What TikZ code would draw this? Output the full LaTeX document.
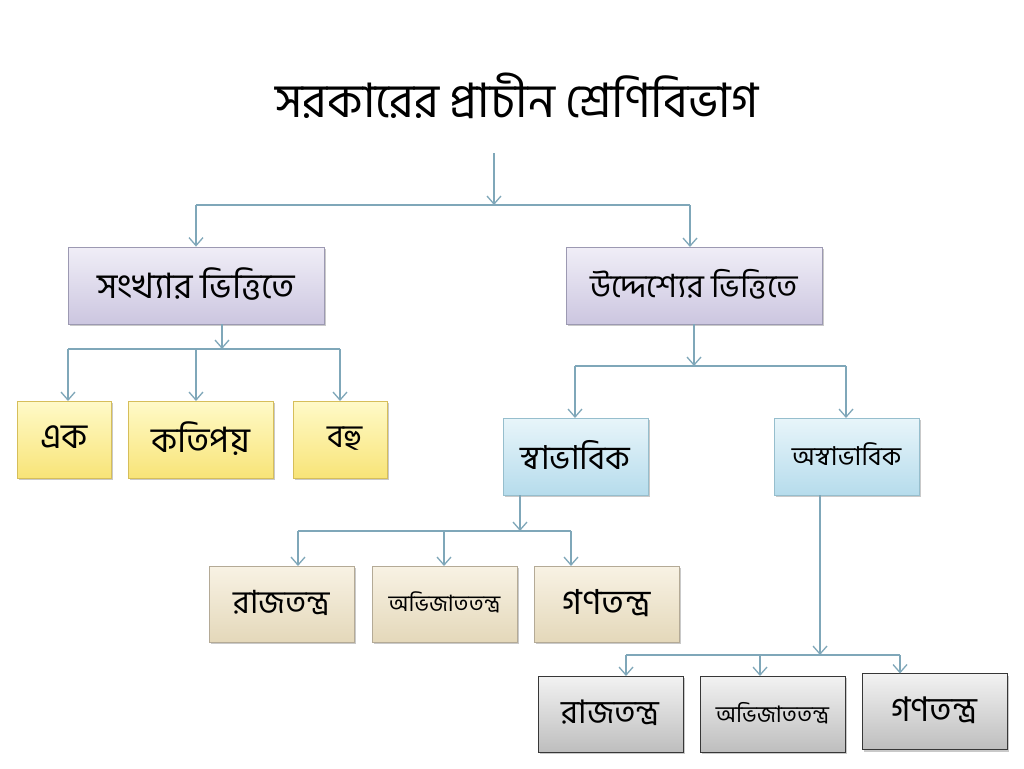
\documentclass[tikz,border=0pt]{standalone}
\usepackage{fontspec}
\newfontfamily\bn[Script=Bengali]{Hind Siliguri}
\usetikzlibrary{arrows.meta,shadows}
\definecolor{conn}{HTML}{7FA7B9}
\definecolor{lavtop}{HTML}{F0EEF7}
\definecolor{lavbot}{HTML}{CCC6E0}
\definecolor{lavdraw}{HTML}{9C99B2}
\newcommand{\bt}[2]{\raisebox{4pt}{\bn\fontsize{#1}{#1}\selectfont #2}}
\tikzset{
  box/.style={draw, line width=0.8pt, align=center, inner sep=0pt,
    drop shadow={shadow xshift=1.5pt, shadow yshift=-2pt, opacity=0.35, fill=black!60}},
  lav/.style={box, draw=lavdraw, top color=lavtop, bottom color=lavbot, minimum width=256, minimum height=77},
  yel/.style={box, draw={rgb,255:red,214;green,190;blue,90}, top color={rgb,255:red,255;green,250;blue,200}, bottom color={rgb,255:red,248;green,228;blue,120}, minimum height=77},
  blu/.style={box, draw={rgb,255:red,150;green,190;blue,205}, top color={rgb,255:red,232;green,245;blue,250}, bottom color={rgb,255:red,182;green,220;blue,236}, minimum width=145, minimum height=77},
  tan/.style={box, draw={rgb,255:red,180;green,170;blue,150}, top color={rgb,255:red,248;green,242;blue,228}, bottom color={rgb,255:red,228;green,216;blue,186}, minimum width=145, minimum height=76},
  gry/.style={box, draw={rgb,255:red,55;green,55;blue,55}, top color={rgb,255:red,242;green,242;blue,242}, bottom color={rgb,255:red,190;green,190;blue,190}, minimum width=145, minimum height=76},
  ln/.style={draw=conn, line width=1.3pt},
  arr/.style={ln, -{Straight Barb[length=8pt, width=14pt, line width=1.3pt]}},
}
\begin{document}
\begin{tikzpicture}[x=1pt,y=-1pt]
\useasboundingbox (0,0) rectangle (1024,768);
\fill[white] (0,0) rectangle (1024,768);
% title
\node (title) at (517,96) {\bn\fontsize{47.5}{52}\selectfont সরকারের প্রাচীন শ্রেণিবিভাগ};
% level 1
\node[lav] (b1) at (196,285.5) {\bt{35}{সংখ্যার ভিত্তিতে}};
\node[lav] (b2) at (694,285.5) {\bt{32}{উদ্দেশ্যের ভিত্তিতে}};
% yellow
\node[yel, minimum width=94] (y1) at (64,439.5) {\bt{35}{এক}};
\node[yel, minimum width=145] (y2) at (200.5,439.5) {\bt{35}{কতিপয়}};
\node[yel, minimum width=94] (y3) at (340,439.5) {\hspace*{10pt}\bt{32}{বহু}};
% blue
\node[blu] (s1) at (575.5,456.5) {\bt{33}{স্বাভাবিক}};
\node[blu] (s2) at (846.5,456.5) {\bt{26}{অস্বাভাবিক}};
% tan
\node[tan] (t1) at (281.5,604) {\bt{32}{রাজতন্ত্র}};
\node[tan] (t2) at (444.5,604) {\bt{22.5}{অভিজাততন্ত্র}};
\node[tan] (t3) at (606.5,604) {\bt{34.5}{গণতন্ত্র}};
% gray
\node[gry] (g1) at (610.5,714) {\bt{32.5}{রাজতন্ত্র}};
\node[gry] (g2) at (772.5,714) {\bt{22.8}{অভিজাততন্ত্র}};
\node[gry] (g3) at (934.5,711.5) {\bt{34}{গণতন্ত্র}};
% junction coordinates
\coordinate (top) at (494,153);
\coordinate (j0) at (494,205);
\coordinate (j1) at (222,349);
\coordinate (j2) at (694,366);
\coordinate (j3) at (520,531);
\coordinate (j4) at (820,655);
% connectors level 0
\draw[arr] (top) -- (j0);
\draw[ln] (b1.north |- j0) -- (690,205);
\draw[arr] (b1.north |- j0) -- (b1.north);
\draw[arr] (690,205) -- (690,247);
% b1 children
\draw[arr] (j1 |- b1.south) -- (j1);
\draw[ln] (68,349) -- (340,349);
\draw[arr] (68,349) -- (68,401);
\draw[arr] (196,349) -- (196,401);
\draw[arr] (340,349) -- (340,401);
% b2 children
\draw[arr] (b2.south) -- (j2);
\draw[ln] (575,366) -- (846,366);
\draw[arr] (575,366) -- (575,418);
\draw[arr] (846,366) -- (846,418);
% s1 children
\draw[arr] (j3 |- s1.south) -- (j3);
\draw[ln] (298,531) -- (571,531);
\draw[arr] (298,531) -- (298,566);
\draw[arr] (444,531) -- (444,566);
\draw[arr] (571,531) -- (571,566);
% s2 children
\draw[arr] (j4 |- s2.south) -- (j4);
\draw[ln] (626,655) -- (900,655);
\draw[arr] (626,655) -- (626,676);
\draw[arr] (760,655) -- (760,676);
\draw[arr] (900,655) -- (900,673.5);
\end{tikzpicture}
\end{document}
